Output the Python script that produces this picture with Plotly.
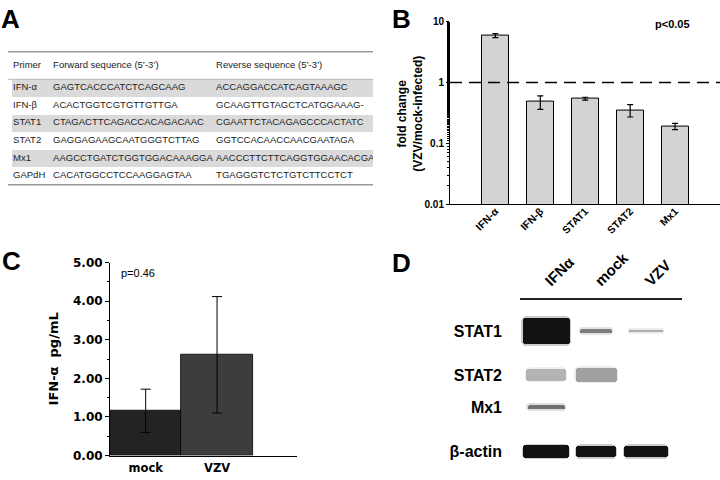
import plotly.graph_objects as go

W, H = 720, 480


def px(x):
    return x / W


def py(y):
    return 1 - y / H


# ---------------- data ----------------
# Panel A: primer table
table_headers = ["Primer", "Forward sequence (5’-3’)", "Reverse sequence (5’-3’)"]
primers = ["IFN-α", "IFN-β", "STAT1", "STAT2", "Mx1", "GAPdH"]
forward_seqs = [
    "GAGTCACCCATCTCAGCAAG",
    "ACACTGGTCGTGTTGTTGA",
    "CTAGACTTCAGACCACAGACAAC",
    "GAGGAGAAGCAATGGGTCTTAG",
    "AAGCCTGATCTGGTGGACAAAGGA",
    "CACATGGCCTCCAAGGAGTAA",
]
reverse_seqs = [
    "ACCAGGACCATCAGTAAAGC",
    "GCAAGTTGTAGCTCATGGAAAG-",
    "CGAATTCTACAGAGCCCACTATC",
    "GGTCCACAACCAACGAATAGA",
    "AACCCTTCTTCAGGTGGAACACGA",
    "TGAGGGTCTCTGTCTTCCTCT",
]

# Panel B: fold change (log scale)
genes = ["IFN-α", "IFN-β", "STAT1", "STAT2", "Mx1"]
fold_change = [5.9, 0.48, 0.54, 0.35, 0.19]
fold_err = [0.45, 0.12, 0.03, 0.08, 0.022]
b_tickvals = [0.01, 0.1, 1, 10]
b_ticktext = ["0.01", "0.1", "1", "10"]
b_reference = [1, 1]

# Panel C: IFN-alpha ELISA
groups = ["mock", "VZV"]
ifn_pg = [1.16, 2.61]
ifn_err = [0.56, 1.51]
c_tickvals = [0, 1, 2, 3, 4, 5]

# Panel D: western blot band intensities (protein x lane)
lanes = ["IFNα", "mock", "VZV"]
proteins = ["STAT1", "STAT2", "Mx1", "β-actin"]
band_intensity = [
    [1.00, 0.55, 0.35],
    [0.32, 0.40, 0.00],
    [0.60, 0.00, 0.00],
    [1.00, 1.00, 1.00],
]
band_length = [  # fraction of lane
    [0.94, 0.64, 0.68],
    [0.80, 0.82, 0.00],
    [0.74, 0.00, 0.00],
    [0.92, 0.80, 0.88],
]
band_thickness = [  # in row units
    [0.65, 0.10, 0.07],
    [0.29, 0.34, 0.00],
    [0.12, 0.00, 0.00],
    [0.31, 0.27, 0.29],
]

# ---------------- layout constants ----------------
ARIAL = "Liberation Sans"
DEJAVU = "DejaVu Sans"
row_pos = [0, 1.09, 1.89, 3.0]
col_x = [0.002, 0.113, 0.565]
header_y = -0.75

fig = go.Figure()

# ---- Panel A table (own hidden axes) ----
n_rows = len(primers)
shaded = [i + 0.5 for i in range(n_rows) if i % 2 == 0]
fig.add_trace(go.Bar(
    y=shaded, x=[1] * len(shaded), base=0, width=1, orientation="h",
    marker=dict(color="#dadada", line=dict(width=0)),
    xaxis="x4", yaxis="y4", showlegend=False, hoverinfo="skip",
))
tab_font = dict(family=ARIAL, size=9.5, color="#222")
fig.add_trace(go.Scatter(
    x=col_x, y=[header_y] * 3, text=table_headers, mode="text",
    textposition="middle right", textfont=tab_font,
    xaxis="x4", yaxis="y4", showlegend=False, hoverinfo="skip",
))
for ci, col in enumerate([primers, forward_seqs, reverse_seqs]):
    fig.add_trace(go.Scatter(
        x=[col_x[ci]] * n_rows, y=[i + 0.5 for i in range(n_rows)], text=col,
        mode="text", textposition="middle right", textfont=tab_font,
        xaxis="x4", yaxis="y4", showlegend=False, hoverinfo="skip",
    ))

# ---- Panel B ----
fig.add_trace(go.Bar(
    x=list(range(len(genes))), y=fold_change, width=0.6,
    marker=dict(color="#d3d3d3", line=dict(color="black", width=1)),
    error_y=dict(type="data", array=fold_err, color="black", thickness=1.2, width=3),
    xaxis="x", yaxis="y", showlegend=False,
))
fig.add_trace(go.Scatter(
    x=[-1.01, 5.0], y=b_reference, mode="lines",
    line=dict(color="black", width=1.5, dash="12px,7px"),
    xaxis="x", yaxis="y", showlegend=False, hoverinfo="skip",
))

# ---- Panel C ----
fig.add_trace(go.Bar(
    x=[0, 1], y=ifn_pg, width=1.0,
    marker=dict(color=["#232323", "#3d3d3d"], line=dict(color="black", width=0.8)),
    error_y=dict(type="data", array=ifn_err, color="black", thickness=1, width=5),
    xaxis="x2", yaxis="y2", showlegend=False,
))

# ---- Panel D ----
hx, hy, hw, hbase, hcol = [], [], [], [], []
bx, by, bw, bbase, bcol = [], [], [], [], []
for r, prot in enumerate(proteins):
    for l, lane in enumerate(lanes):
        inten = band_intensity[r][l]
        if inten <= 0:
            continue
        g = int(round(255 * (1 - 0.93 * inten)))
        t = band_thickness[r][l]
        bx.append(l)
        by.append(t)
        bbase.append(row_pos[r] - t / 2)
        bw.append(band_length[r][l])
        bcol.append(f"rgb({g},{g},{g})")
        # soft halo around each band
        ht = t + 0.08
        hg = int(round(255 * (1 - 0.2 * inten)))
        hx.append(l)
        hy.append(ht)
        hbase.append(row_pos[r] - ht / 2)
        hw.append(band_length[r][l] + 0.05)
        hcol.append(f"rgb({hg},{hg},{hg})")
fig.add_trace(go.Bar(
    x=hx, y=hy, base=hbase, width=hw,
    marker=dict(color=hcol, line=dict(width=0), cornerradius=6),
    xaxis="x3", yaxis="y3", showlegend=False, hoverinfo="skip",
))
fig.add_trace(go.Bar(
    x=bx, y=by, base=bbase, width=bw,
    marker=dict(color=bcol, line=dict(width=0), cornerradius=3),
    xaxis="x3", yaxis="y3", showlegend=False,
))

hidden = dict(visible=False, showgrid=False, zeroline=False, fixedrange=True)

fig.update_layout(
    width=W, height=H,
    margin=dict(l=0, r=0, t=0, b=0, pad=0),
    paper_bgcolor="white", plot_bgcolor="white",
    bargap=0, barmode="overlay",
    # Panel A axes
    xaxis4=dict(domain=[px(8), px(373)], range=[-0.012, 1], anchor="y4", **hidden),
    yaxis4=dict(domain=[py(183), py(46)], range=[6, -1.556], anchor="x4", **hidden),
    # Panel B axes
    xaxis=dict(domain=[px(450), 1.0], range=[-1.01, 5.0], anchor="y",
               tickvals=list(range(len(genes))), ticktext=genes, tickangle=-45,
               ticks="", showline=True, linecolor="black", linewidth=1,
               showgrid=False, zeroline=False, ticklabelstandoff=-4,
               tickfont=dict(family=ARIAL, size=10.5, color="black", weight="bold")),
    yaxis=dict(domain=[py(203), py(15)], type="log", range=[-2, 1], anchor="x",
               tickvals=b_tickvals, ticktext=b_ticktext, ticks="outside", ticklen=3,
               tickcolor="black", showline=True, linecolor="black", linewidth=1,
               showgrid=False, zeroline=False,
               minor=dict(ticks="outside", ticklen=2, tickcolor="black", showgrid=False),
               tickfont=dict(family=ARIAL, size=10, color="black", weight="bold")),
    # Panel C axes
    xaxis2=dict(domain=[px(110), px(297)], range=[-0.5, 2.12], anchor="y2",
                tickvals=[0, 1], ticktext=groups, ticks="", showline=True,
                linecolor="black", linewidth=1, showgrid=False, zeroline=False,
                ticklabelstandoff=2,
                tickfont=dict(family=DEJAVU, size=11.5, color="black", weight="bold")),
    yaxis2=dict(domain=[py(462), py(263.3)], range=[0, 5], anchor="x2",
                tickvals=c_tickvals, tickformat=".2f", ticks="outside", ticklen=4,
                tickcolor="black", showline=True, linecolor="black", linewidth=1,
                showgrid=False, zeroline=False,
                minor=dict(dtick=0.5, ticks="outside", ticklen=2, tickcolor="black",
                           showgrid=False),
                tickfont=dict(family=DEJAVU, size=12, color="black", weight="bold")),
    # Panel D axes
    xaxis3=dict(domain=[px(520), px(682)], range=[-0.52, 2.72], anchor="y3",
                side="top", tickvals=[0, 1, 2], ticktext=lanes, tickangle=-45,
                ticks="", showline=True, linecolor="#222", linewidth=2,
                showgrid=False, zeroline=False, ticklabelstandoff=3,
                tickfont=dict(family=ARIAL, size=15, color="black", weight="bold")),
    yaxis3=dict(domain=[py(475), py(302)], range=[3.41, -0.774], anchor="x3",
                tickvals=row_pos, ticktext=proteins, ticks="", showline=False,
                showgrid=False, zeroline=False, ticklabelstandoff=17,
                tickfont=dict(family=ARIAL, size=16, color="black", weight="bold")),
    shapes=[
        dict(type="line", xref="paper", yref="paper", x0=px(8), x1=px(373),
             y0=py(46), y1=py(46), line=dict(color="#999", width=1.5)),
        dict(type="line", xref="paper", yref="paper", x0=px(8), x1=px(373),
             y0=py(74.5), y1=py(74.5), line=dict(color="#bbb", width=1)),
        dict(type="line", xref="paper", yref="paper", x0=px(8), x1=px(373),
             y0=py(183), y1=py(183), line=dict(color="#999", width=1.5)),
    ],
)

annos = [
    dict(text="A", x=px(-1), y=py(12), xanchor="left", size=26, bold=True),
    dict(text="B", x=px(390), y=py(12), xanchor="left", size=26, bold=True),
    dict(text="C", x=px(0), y=py(262), xanchor="left", size=26, bold=True),
    dict(text="D", x=px(390), y=py(264), xanchor="left", size=26, bold=True),
    dict(text="p<0.05", x=px(672), y=py(17), xanchor="center", size=11, bold=True),
    dict(text="p=0.46", x=px(119), y=py(274), xanchor="left", size=11, bold=False),
]
for a in annos:
    fig.add_annotation(
        text=a["text"], x=a["x"], y=a["y"], xref="paper", yref="paper",
        xanchor=a["xanchor"], yanchor="middle", showarrow=False,
        font=dict(family=ARIAL, size=a["size"], color="black",
                  weight="bold" if a["bold"] else "normal"),
    )

fig.add_annotation(
    text="fold change<br>(VZV/mock-infected)", x=px(410), y=py(110),
    xref="paper", yref="paper", textangle=-90, showarrow=False,
    xanchor="center", yanchor="middle",
    font=dict(family=ARIAL, size=12, color="black", weight="bold"),
)
fig.add_annotation(
    text="IFN-α  pg/mL", x=px(53), y=py(363),
    xref="paper", yref="paper", textangle=-90, showarrow=False,
    xanchor="center", yanchor="middle",
    font=dict(family=DEJAVU, size=13, color="black", weight="bold"),
)

fig.write_html(
    "out.html",
    config={"displayModeBar": False},
    post_script="document.body.style.margin='0';document.body.style.padding='0';"
                "document.body.style.overflow='hidden';",
)
